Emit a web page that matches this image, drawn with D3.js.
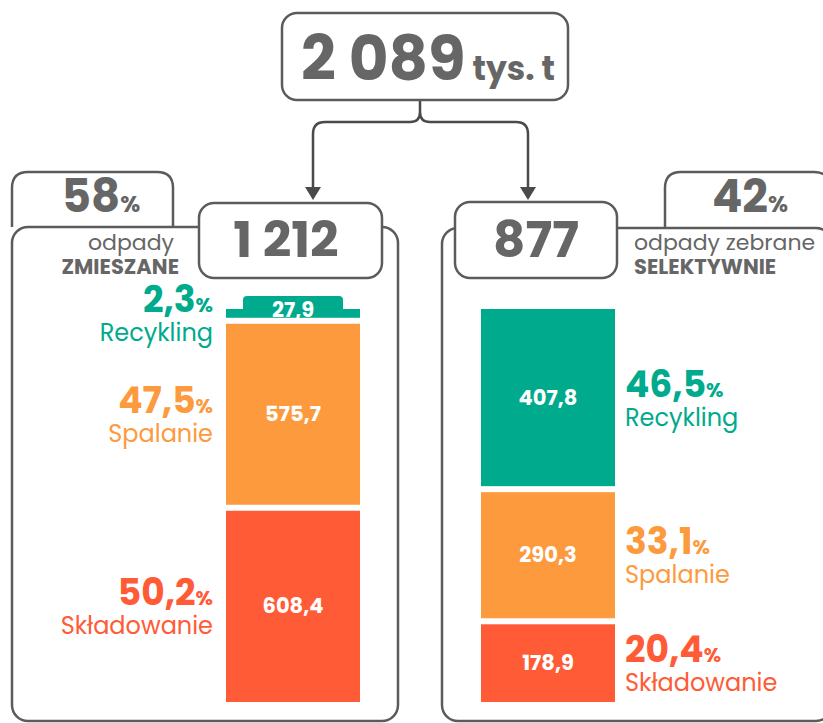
<!DOCTYPE html>
<html>
<head>
<meta charset="utf-8">
<script src="https://cdn.jsdelivr.net/npm/d3@7"></script>
<style>
  body { margin: 0; background: #fff; }
  svg { display: block; font-family: "Poppins", Inter, "Noto Sans", sans-serif; }
</style>
</head>
<body>
<div id="chart-area"></div>
<script>
// data
const categories = ["Recykling", "Spalanie", "Składowanie"];
const total = 2089;
const groups = ["odpady ZMIESZANE", "odpady zebrane SELEKTYWNIE"];
const groupTotals = [1212, 877];
const groupShares = [58, 42];
const mixedValues = [27.9, 575.7, 608.4];
const mixedShares = [2.3, 47.5, 50.2];
const selectiveValues = [407.8, 290.3, 178.9];
const selectiveShares = [46.5, 33.1, 20.4];

const colors = d3.scaleOrdinal()
  .domain(categories)
  .range(["#00aa8c", "#fd9a3e", "#ff5b37"]);

const pl = d3.formatLocale({ decimal: ",", thousands: " ", grouping: [3], currency: ["", " zł"] });
const fmtInt = pl.format(",d");
const fmt1 = pl.format(",.1f");

const width = 823, height = 723;
const gray = "#666666", lineCol = "#5b5b5b";

let svg = d3.select("#chart-area").append("svg")
  .attr("width", width)
  .attr("height", height);

// panels (drawn first, boxes cover them)
function topBox(x0, x1, y0, y1, r) {
  return `M${x0},${y1} V${y0 + r} Q${x0},${y0} ${x0 + r},${y0} H${x1 - r} Q${x1},${y0} ${x1},${y0 + r} V${y1}`;
}
svg.append("path").attr("d", topBox(12, 173, 172, 227, 16))
  .attr("fill", "none").attr("stroke", lineCol).attr("stroke-width", 2.5);
svg.append("path").attr("d", topBox(665, 830, 172, 228, 16))
  .attr("fill", "none").attr("stroke", lineCol).attr("stroke-width", 2.5);

svg.append("rect").attr("x", 12).attr("y", 227).attr("width", 386).attr("height", 494)
  .attr("rx", 16).attr("fill", "none").attr("stroke", lineCol).attr("stroke-width", 2.5);
svg.append("rect").attr("x", 442).attr("y", 228).attr("width", 390).attr("height", 493)
  .attr("rx", 16).attr("fill", "none").attr("stroke", lineCol).attr("stroke-width", 2.5);

// bracket with arrows
const bx = 420, lx = 313, rx = 528, hy = 122, r = 12;
svg.append("path")
  .attr("d", `M${bx},100 V${hy - 10} Q${bx},${hy} ${bx - 10},${hy} H${lx + r} Q${lx},${hy} ${lx},${hy + r} V190
              M${bx},${hy - 10} Q${bx},${hy} ${bx + 10},${hy} H${rx - r} Q${rx},${hy} ${rx},${hy + r} V190`)
  .attr("fill", "none").attr("stroke", "#4a4a4a").attr("stroke-width", 2.5);
[lx, rx].forEach(x => {
  svg.append("path").attr("d", `M${x - 8},187 L${x + 8},187 L${x},200 Z`).attr("fill", "#4a4a4a");
});

// boxes
function box(x, y, w, h) {
  svg.append("rect").attr("x", x).attr("y", y).attr("width", w).attr("height", h)
    .attr("rx", 15).attr("fill", "#fff").attr("stroke", lineCol).attr("stroke-width", 2.5);
}
box(282, 13, 286, 87);
box(199, 203, 183, 75);
box(455, 202, 162, 76);

// total
let tt = svg.append("text").attr("x", 428).attr("y", 80).attr("text-anchor", "middle")
  .attr("fill", gray).attr("font-weight", 700);
tt.append("tspan").text(fmtInt(total)).attr("font-size", 61);
tt.append("tspan").text(" tys. t").attr("font-size", 33);

// group totals
const boxCenters = [286, 536];
groupTotals.forEach((v, i) => {
  svg.append("text").attr("x", boxCenters[i]).attr("y", 257).attr("text-anchor", "middle")
    .attr("fill", gray).attr("font-weight", 700).attr("font-size", 50)
    .text(fmtInt(v));
});

// group shares
const shareCenters = [101, 750];
groupShares.forEach((v, i) => {
  let t = svg.append("text").attr("x", shareCenters[i]).attr("y", 212).attr("text-anchor", "middle")
    .attr("fill", gray).attr("font-weight", 700);
  t.append("tspan").text(v).attr("font-size", 45);
  t.append("tspan").text("%").attr("font-size", 23);
});

// group names
const nameParts = groups.map(g => {
  const k = g.lastIndexOf(" ");
  return [g.slice(0, k), g.slice(k + 1)];
});
[[174, 179, "end"], [634, 634, "start"]].forEach(([x1, x2, anchor], i) => {
  svg.append("text").attr("x", x1).attr("y", 250).attr("text-anchor", anchor)
    .attr("fill", gray).attr("font-size", 22).text(nameParts[i][0]);
  svg.append("text").attr("x", x2).attr("y", 274).attr("text-anchor", anchor)
    .attr("fill", gray).attr("font-size", 21).attr("font-weight", 700).text(nameParts[i][1]);
});

// stacked bars
const barTop = 309, barBottom = 702, gap = 6, barW = 134;
function drawStack(values, shares, x0, side) {
  const avail = barBottom - barTop - gap * (values.length - 1);
  const y = d3.scaleLinear().domain([0, d3.sum(values)]).range([0, avail]);
  let acc = 0;
  const rows = values.map((v, i) => {
    const top = barTop + y(acc) + gap * i;
    acc += v;
    return { cat: categories[i], value: v, share: shares[i], top: top, h: y(v) };
  });
  const g = svg.append("g");
  g.selectAll("rect").data(rows).enter().append("rect")
    .attr("x", x0).attr("y", d => d.top).attr("width", barW).attr("height", d => d.h)
    .attr("fill", d => colors(d.cat));

  rows.forEach(d => {
    const mid = d.top + d.h / 2;
    if (d.h < 24) {
      // tab for a value that does not fit
      const tw = 100, th = 13, cx = x0 + barW / 2, tr = 4;
      g.append("path")
        .attr("d", `M${cx - tw / 2},${d.top + 1} V${d.top - th + tr} Q${cx - tw / 2},${d.top - th} ${cx - tw / 2 + tr},${d.top - th}
                    H${cx + tw / 2 - tr} Q${cx + tw / 2},${d.top - th} ${cx + tw / 2},${d.top - th + tr} V${d.top + 1} Z`)
        .attr("fill", colors(d.cat));
      g.append("text").attr("x", cx).attr("y", d.top + d.h - 1).attr("text-anchor", "middle")
        .attr("fill", "#fff").attr("font-weight", 700).attr("font-size", 21).text(fmt1(d.value));
    } else {
      g.append("text").attr("x", x0 + barW / 2).attr("y", mid + 7).attr("text-anchor", "middle")
        .attr("fill", "#fff").attr("font-weight", 700).attr("font-size", 21).text(fmt1(d.value));
    }
    const lx = side === "left" ? x0 - 13 : x0 + barW + 10;
    const anchor = side === "left" ? "end" : "start";
    let p = g.append("text").attr("x", lx).attr("y", mid - 1).attr("text-anchor", anchor)
      .attr("fill", colors(d.cat)).attr("font-weight", 700);
    p.append("tspan").text(fmt1(d.share)).attr("font-size", 36);
    p.append("tspan").text("%").attr("font-size", 20);
    g.append("text").attr("x", lx).attr("y", mid + 28).attr("text-anchor", anchor)
      .attr("fill", colors(d.cat)).attr("font-size", 24).text(d.cat);
  });
}
drawStack(mixedValues, mixedShares, 226, "left");
drawStack(selectiveValues, selectiveShares, 481, "right");
</script>
</body>
</html>
